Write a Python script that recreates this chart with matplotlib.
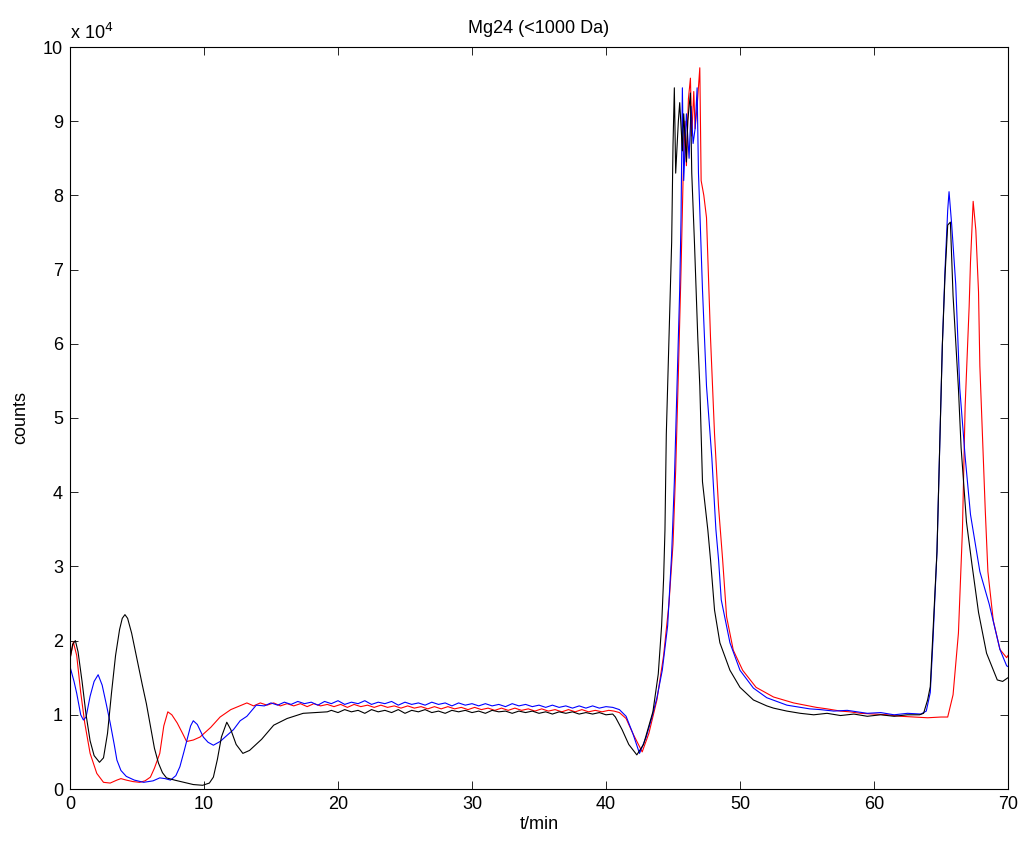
import matplotlib
matplotlib.use("Agg")
from matplotlib import pyplot as plt

# values, counts in units of 1e4
black_t = [0.0, 0.2, 0.4, 0.6, 0.9, 1.2, 1.5, 1.8, 2.2, 2.5, 2.8, 3.1, 3.4, 3.7, 3.9, 4.1, 4.3, 4.6,
           5.0, 5.4, 5.7, 6.0, 6.3, 6.6, 6.9, 7.2, 7.8, 8.5, 9.2, 9.9, 10.4, 10.7, 11.0, 11.3, 11.7,
           12.0, 12.4, 12.9, 13.4, 14.3, 15.2, 16.2, 17.4, 18.3, 19.2,
           19.5, 20.0, 20.5, 21.0, 21.5, 22.0, 22.5, 23.0, 23.5, 24.0, 24.5, 25.0, 25.5, 26.0, 26.5,
           27.0, 27.5, 28.0, 28.5, 29.0, 29.5, 30.0, 30.5, 31.0, 31.5, 32.0, 32.5, 33.0, 33.5, 34.0,
           34.5, 35.0, 35.5, 36.0, 36.5, 37.0, 37.5, 38.0, 38.5, 39.0, 39.5, 40.0, 40.5,
           40.7, 41.2, 41.7, 42.3, 42.8, 43.2, 43.5, 43.9, 44.15, 44.3, 44.4, 44.5, 44.7, 44.9, 45.0,
           45.1, 45.2, 45.4, 45.5, 45.7, 45.8, 46.0, 46.1, 46.3, 46.4, 46.6, 46.85, 47.0, 47.1, 47.2,
           47.6, 47.8, 48.1, 48.5, 49.25, 50.0, 51.0, 52.0, 52.5, 53.5, 54.5, 55.5, 56.5, 57.5, 58.5,
           59.5, 60.5, 61.5, 62.5, 63.4, 63.7, 64.0, 64.2, 64.4, 64.7, 64.9, 65.1, 65.3, 65.5, 65.7,
           65.9, 66.3, 66.5, 66.9, 67.3, 67.8, 68.4, 69.2, 69.6, 70.0]
black_y = [1.75, 1.95, 2.0, 1.85, 1.45, 1.0, 0.65, 0.45, 0.36, 0.42, 0.75, 1.3, 1.8, 2.15, 2.3, 2.35, 2.3, 2.1,
           1.75, 1.4, 1.15, 0.85, 0.55, 0.35, 0.22, 0.15, 0.12, 0.09, 0.06, 0.05, 0.08, 0.16, 0.4, 0.7, 0.9,
           0.8, 0.6, 0.48, 0.52, 0.67, 0.86, 0.95, 1.02, 1.03, 1.04,
           1.06, 1.03, 1.07, 1.04, 1.06, 1.02, 1.07, 1.04, 1.06, 1.03, 1.07, 1.02, 1.06, 1.04, 1.07,
           1.03, 1.05, 1.02, 1.06, 1.04, 1.06, 1.03, 1.05, 1.02, 1.06, 1.04, 1.05, 1.02, 1.05, 1.03,
           1.05, 1.02, 1.04, 1.01, 1.04, 1.02, 1.04, 1.01, 1.03, 1.01, 1.03, 1.0, 1.01,
           0.97, 0.8, 0.6, 0.46, 0.6, 0.85, 1.04, 1.55, 2.2, 2.84, 3.49, 4.78, 6.08, 7.37, 8.67,
           9.45, 8.3, 9.0, 9.25, 8.6, 9.1, 8.45, 9.0, 9.38, 8.3, 7.37, 6.08, 5.43, 4.78, 4.14,
           3.49, 3.09, 2.41, 1.97, 1.6, 1.37, 1.2, 1.12, 1.09, 1.05, 1.02, 1.0, 1.02, 0.99, 1.01,
           0.98, 1.0, 0.98, 1.0, 1.0, 1.02, 1.2, 1.38, 2.1, 3.2, 4.6, 5.98, 6.92, 7.6, 7.64,
           6.65, 5.4, 4.6, 3.6, 3.04, 2.38, 1.83, 1.47, 1.45, 1.5]

blue_t = [0.0, 0.3, 0.5, 0.8, 1.0, 1.2, 1.5, 1.8, 2.1, 2.4, 2.7, 3.0, 3.3, 3.5, 3.8, 4.2, 4.8, 5.5,
          6.2, 6.7, 7.1, 7.5, 7.9, 8.2, 8.5, 8.7, 9.0, 9.2, 9.5, 9.95, 10.3, 10.7, 11.2, 11.7, 12.2,
          12.7, 13.2, 13.9,
          14.5, 15.0, 15.5, 16.0, 16.5, 17.0, 17.5, 18.0, 18.5, 19.0, 19.5, 20.0, 20.5, 21.0, 21.5,
          22.0, 22.5, 23.0, 23.5, 24.0, 24.5, 25.0, 25.5, 26.0, 26.5, 27.0, 27.5, 28.0, 28.5, 29.0,
          29.5, 30.0, 30.5, 31.0, 31.5, 32.0, 32.5, 33.0, 33.5, 34.0, 34.5, 35.0, 35.5, 36.0, 36.5,
          37.0, 37.5, 38.0, 38.5, 39.0, 39.5, 40.0, 40.5,
          41.0, 41.5, 42.0, 42.5, 43.0, 43.4, 43.8, 44.2, 44.6, 44.9, 45.1, 45.3, 45.5, 45.6, 45.7,
          45.8, 46.0, 46.2, 46.35, 46.5, 46.65, 46.8, 46.9, 47.0, 47.2, 47.5, 47.9, 48.2, 48.4, 48.6,
          49.25, 50.0, 51.0, 52.0, 53.5, 54.5, 55.2, 56.0, 57.0, 58.0, 59.5, 60.5, 61.5, 62.5, 63.5,
          63.9, 64.2, 64.4, 64.7, 64.9, 65.1, 65.3, 65.5, 65.6, 65.8, 66.1, 66.4, 66.8, 67.2, 67.9,
          68.6, 69.4, 69.9, 70.0]
blue_y = [1.65, 1.45, 1.29, 1.0, 0.93, 0.97, 1.25, 1.45, 1.54, 1.4, 1.15, 0.89, 0.6, 0.39, 0.25, 0.17, 0.12, 0.09,
          0.11, 0.15, 0.14, 0.12, 0.18, 0.3, 0.5, 0.64, 0.85, 0.92, 0.87, 0.7, 0.63, 0.59, 0.64, 0.72, 0.8,
          0.92, 0.98, 1.13,
          1.12, 1.16, 1.13, 1.17, 1.14, 1.18, 1.15, 1.17, 1.13, 1.18, 1.15, 1.19, 1.14, 1.17, 1.15,
          1.19, 1.14, 1.17, 1.15, 1.18, 1.13, 1.17, 1.14, 1.16, 1.13, 1.17, 1.14, 1.16, 1.12, 1.16,
          1.13, 1.15, 1.12, 1.15, 1.12, 1.14, 1.11, 1.15, 1.12, 1.14, 1.11, 1.13, 1.1, 1.13, 1.1,
          1.12, 1.09, 1.12, 1.09, 1.12, 1.09, 1.11, 1.1,
          1.07, 0.98, 0.75, 0.48, 0.7, 0.95, 1.23, 1.6, 2.2, 3.17, 4.14, 5.43, 6.73, 7.7, 9.45,
          8.2, 9.1, 8.5, 9.2, 8.7, 8.9, 9.45, 8.3, 7.8, 6.73, 5.43, 4.46, 3.5, 3.09, 2.55,
          1.97, 1.6, 1.36, 1.23, 1.13, 1.1, 1.08, 1.07, 1.05, 1.06, 1.02, 1.03, 1.0, 1.02, 1.01,
          1.05, 1.3, 2.0, 3.2, 4.6, 5.98, 7.0, 7.8, 8.05, 7.6, 6.8, 5.4, 4.48, 3.7, 2.93,
          2.49, 1.88, 1.66, 1.65]

red_t = [0.0, 0.25, 0.5, 0.8, 1.1, 1.5, 2.0, 2.5, 3.0, 3.5, 3.8, 4.2, 4.7, 5.2, 5.6, 6.0, 6.3, 6.7,
         7.0, 7.3, 7.6, 8.0, 8.4, 8.7, 9.2, 9.7, 10.5, 11.2, 12.0, 13.2,
         13.7, 14.2, 14.7, 15.2, 15.7, 16.2, 16.7, 17.2, 17.7, 18.2, 18.7, 19.2, 19.7, 20.2, 20.7,
         21.2, 21.7, 22.2, 22.7, 23.2, 23.7, 24.2, 24.7, 25.2, 25.7, 26.2, 26.7, 27.2, 27.7, 28.2,
         28.7, 29.2, 29.7, 30.2, 30.7, 31.2, 31.7, 32.2, 32.7, 33.2, 33.7, 34.2, 34.7, 35.2, 35.7,
         36.2, 36.7, 37.2, 37.7, 38.2, 38.7, 39.2, 39.7, 40.2, 40.6,
         41.0, 41.5, 42.0, 42.7, 43.2, 43.8, 44.3, 44.7, 45.0, 45.2, 45.4, 45.6, 45.75, 45.9, 46.0,
         46.15, 46.3, 46.4, 46.55, 46.65, 46.8, 47.0, 47.1, 47.3, 47.5, 47.8, 48.1, 48.4, 48.7, 49.0,
         49.5, 50.2, 51.2, 52.5, 54.0, 55.7, 56.5, 57.5, 58.2, 59.0, 60.0, 61.0, 62.0, 63.0, 64.0,
         65.0, 65.5, 65.9, 66.3, 66.6, 66.8, 67.1, 67.2, 67.4, 67.6, 67.8, 67.9, 68.3, 68.5, 68.9,
         69.4, 69.9, 70.0]
red_y = [1.75, 1.98, 1.8, 1.3, 0.89, 0.48, 0.21, 0.09, 0.08, 0.12, 0.14, 0.12, 0.1, 0.09, 0.11, 0.16, 0.28, 0.48,
         0.85, 1.04, 1.0, 0.89, 0.75, 0.64, 0.66, 0.7, 0.83, 0.97, 1.07, 1.16,
         1.12, 1.16, 1.13, 1.16, 1.12, 1.15, 1.12, 1.15, 1.11, 1.15, 1.12, 1.14, 1.11, 1.14, 1.1,
         1.14, 1.11, 1.13, 1.1, 1.13, 1.1, 1.12, 1.09, 1.12, 1.09, 1.11, 1.08, 1.11, 1.08, 1.11,
         1.08, 1.1, 1.07, 1.1, 1.07, 1.09, 1.06, 1.09, 1.06, 1.09, 1.06, 1.08, 1.05, 1.08, 1.05,
         1.07, 1.04, 1.07, 1.04, 1.07, 1.04, 1.06, 1.04, 1.06, 1.05,
         1.03, 0.95, 0.75, 0.5, 0.75, 1.2, 1.8, 2.5, 3.3, 4.3, 5.6, 7.0, 8.2, 9.0, 8.4,
         9.3, 9.58, 8.8, 9.4, 8.9, 9.2, 9.72, 8.2, 8.0, 7.7, 6.08, 4.78, 3.8, 3.1, 2.32,
         1.87, 1.6, 1.37, 1.24, 1.16, 1.1, 1.08, 1.05, 1.04, 1.02, 1.01, 1.0, 0.98, 0.97, 0.96,
         0.97, 0.97, 1.27, 2.1, 3.49, 5.15, 6.5, 7.1, 7.92, 7.53, 6.7, 5.7, 3.77, 2.93, 2.27,
         1.88, 1.77, 1.8]

x_ticks = [0, 10, 20, 30, 40, 50, 60, 70]
y_ticks = [0, 1, 2, 3, 4, 5, 6, 7, 8, 9, 10]


def plot_counts(path: str, title: str):
    plt.rcParams['font.family'] = ['Liberation Sans', 'DejaVu Sans']
    fig = plt.figure(figsize=(10.19, 8.41), dpi=100)
    ax = fig.add_axes([70 / 1019, 52 / 841, 938 / 1019, 742 / 841])

    ax.plot(red_t, red_y, color=(1, 0, 0), linewidth=0.8)
    ax.plot(blue_t, blue_y, color=(0, 0, 1), linewidth=0.8)
    ax.plot(black_t, black_y, color='k', linewidth=0.8)

    ax.set_xlim(0, 70)
    ax.set_ylim(0, 10)
    ax.set_xticks(x_ticks)
    ax.set_yticks(y_ticks)
    ax.tick_params(direction='in', length=5.5, width=0.6, top=True, right=True, labelsize=13, pad=5)
    for s in ax.spines.values():
        s.set_linewidth(0.8)

    ax.set_xlabel('t/min', fontsize=13, labelpad=2)
    ax.set_ylabel('counts', fontsize=13, labelpad=10)
    ax.set_title(title, fontsize=13, pad=10)
    ax.text(0.0, 1.006, 'x 10$^4$', transform=ax.transAxes, fontsize=13, ha='left', va='bottom')

    fig.savefig(path, dpi=100)
    plt.close(fig)


plot_counts('out.png', 'Mg24 (<1000 Da)')
